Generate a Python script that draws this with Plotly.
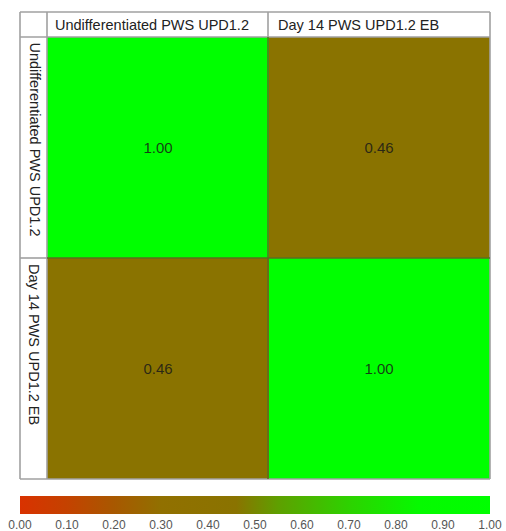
import plotly.graph_objects as go

samples = ["Undifferentiated PWS UPD1.2", "Day 14 PWS UPD1.2 EB"]
corr = [[1.00, 0.46],
        [0.46, 1.00]]
tick_vals = [0.0, 0.1, 0.2, 0.3, 0.4, 0.5, 0.6, 0.7, 0.8, 0.9, 1.0]
tick_text = ["0.00", "0.10", "0.20", "0.30", "0.40", "0.50", "0.60", "0.70", "0.80", "0.90", "1.00"]

W, H = 506, 531
def px(x):
    return x / W
def py(y):
    return 1 - y / H

L, C, R = 20, 47, 490
T, HB, B = 12, 37, 479
xm = 268
ym = 258

colorscale = [[0.0, "#D93200"], [0.1, "#C44200"], [0.2, "#A85800"], [0.3, "#917000"],
              [0.46, "#8A7300"], [0.55, "#5EA000"], [0.7, "#2DD200"], [0.85, "#05FA00"], [1.0, "#00FF00"]]

fig = go.Figure(go.Heatmap(
    z=corr,
    x=samples,
    y=samples,
    zmin=0, zmax=1,
    colorscale=colorscale,
    texttemplate="%{z:.2f}",
    textfont=dict(size=15, color="rgba(25,25,25,0.85)", family="Liberation Sans, Arial"),
    xgap=0, ygap=0,
    hoverinfo="skip",
    colorbar=dict(
        orientation="h",
        x=px((L + R) / 2), xanchor="center",
        y=py(496), yanchor="top",
        len=(R - L) / W, lenmode="fraction",
        thickness=18,
        outlinewidth=0,
        xpad=0, ypad=0,
        tickvals=tick_vals, ticktext=tick_text,
        ticks="",
        tickfont=dict(size=12, color="#555555", family="Liberation Sans, Arial"),
    ),
))

fig.update_xaxes(domain=[px(C), px(R)], showticklabels=False, showgrid=False, zeroline=False)
fig.update_yaxes(domain=[py(B), py(HB)], autorange="reversed", showticklabels=False, showgrid=False, zeroline=False)

grey = "#a0a0a0"
shapes = []
def line(x0, y0, x1, y1, color=grey, w=1.6):
    shapes.append(dict(type="line", xref="paper", yref="paper", x0=px(x0), y0=py(y0), x1=px(x1), y1=py(y1),
                       line=dict(color=color, width=w)))
# table frame
line(L, T, R, T)
line(L, B, R, B)
line(L, T, L, B)
line(R, T, R, B)
line(C, T, C, B)
line(L, HB, R, HB)
line(xm, T, xm, HB)
line(L, ym, C, ym)
# cell boundaries
line(xm, HB, xm, B, color="#5a6e20", w=1.5)
line(C, ym, R, ym, color="#5a6e20", w=1.5)

annotations = []
hfont = dict(size=14.5, color="#222222", family="Liberation Sans, Arial")
for i, s in enumerate(samples):
    x0 = C + 6 if i == 0 else xm + 8
    annotations.append(dict(text=s, xref="paper", yref="paper", x=px(x0), y=py((T + HB) / 2),
                            xanchor="left", yanchor="middle", showarrow=False, font=hfont))
    y0 = HB + 3 if i == 0 else ym + 4
    annotations.append(dict(text=s, xref="paper", yref="paper", x=px(34.5), y=py(y0),
                            xanchor="center", yanchor="top", showarrow=False, font=hfont, textangle=90))

fig.update_layout(
    width=W, height=H,
    margin=dict(l=0, r=0, t=0, b=0),
    paper_bgcolor="white", plot_bgcolor="white",
    shapes=shapes, annotations=annotations,
)

fig.write_html(
    "out.html",
    config={"displayModeBar": False},
    post_script="document.body.style.margin='0';document.body.style.overflow='hidden';",
)
